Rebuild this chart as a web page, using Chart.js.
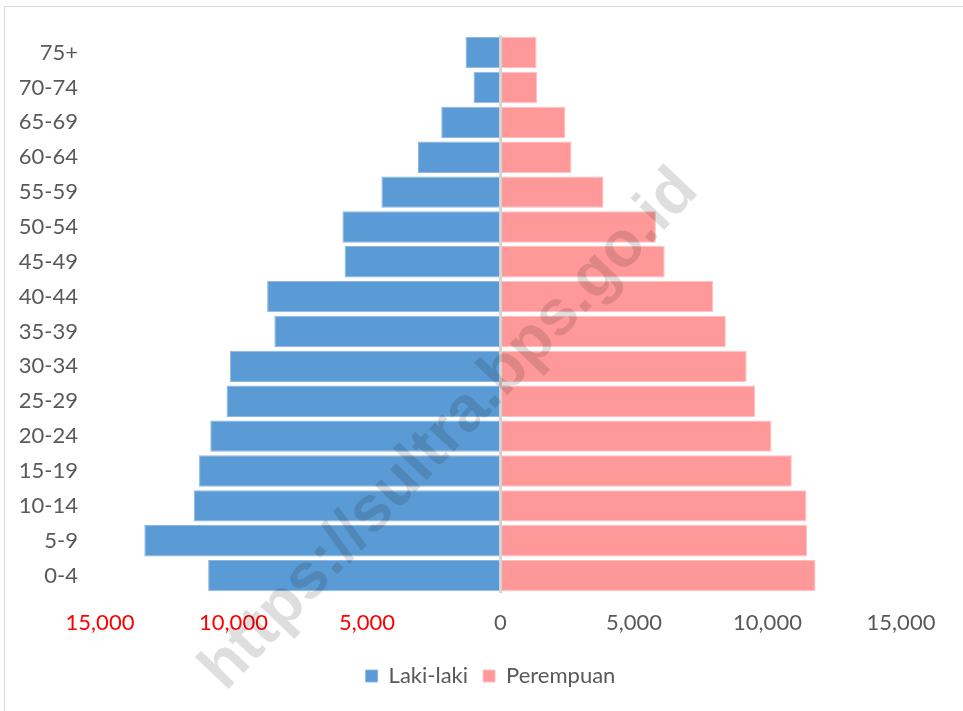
<!DOCTYPE html>
<html>
<head>
<meta charset="utf-8">
<script src="https://cdn.jsdelivr.net/npm/chart.js@4"></script>
<style>
  html, body { margin: 0; padding: 0; background: #fff; }
  .frame { position: absolute; left: 4px; top: 6px; width: 970px; height: 720px; border: 1px solid #d9d9d9; }
  #pyramid { position: absolute; left: 0; top: 0; }
</style>
</head>
<body>
<div class="frame"></div>
<canvas id="pyramid" width="963" height="711"></canvas>
<script>
// age groups, top of the pyramid first
const ageGroups = ['75+', '70-74', '65-69', '60-64', '55-59', '50-54', '45-49', '40-44',
                   '35-39', '30-34', '25-29', '20-24', '15-19', '10-14', '5-9', '0-4'];
const male   = [1310, 1010, 2220, 3090, 4460, 5920, 5840, 8740,
                8470, 10140, 10260, 10870, 11290, 11490, 13340, 10950];
const female = [1350, 1370, 2430, 2660, 3860, 5820, 6150, 7970,
                8440, 9220, 9540, 10150, 10910, 11460, 11480, 11800];
const xTicks = [-15000, -10000, -5000, 0, 5000, 10000, 15000];

const FONT = 'Lato, "Open Sans", sans-serif';

// the grey diagonal watermark
const watermark = {
    id: 'watermark',
    afterDatasetsDraw(chart) {
        const ctx = chart.ctx;
        ctx.save();
        ctx.translate(450, 430);
        ctx.rotate(-46.5 * Math.PI / 180);
        ctx.font = 'bold 64px "Liberation Sans", Arial, sans-serif';
        ctx.fillStyle = 'rgba(0, 0, 0, 0.13)';
        ctx.textAlign = 'center';
        ctx.textBaseline = 'middle';
        ctx.fillText('https://sultra.bps.go.id', 0, 0);
        ctx.restore();
    }
};

// legend sits a bit right of centre in the original
const legendShift = {
    id: 'legendShift',
    afterLayout(chart) {
        chart.legend.left += 40;
        chart.legend.right += 40;
    }
};

document.addEventListener('DOMContentLoaded', () => {
    const ctx = document.getElementById('pyramid').getContext('2d');

    new Chart(ctx, {
        type: 'bar',
        data: {
            labels: ageGroups,
            datasets: [{
                label: 'Laki-laki',
                data: male.map(v => -v),
                backgroundColor: '#5B9BD5',
                borderColor: '#8db8e3',
                borderWidth: 1,
                barPercentage: 0.9,
                categoryPercentage: 1.0
            }, {
                label: 'Perempuan',
                data: female,
                backgroundColor: '#FF9999',
                borderColor: '#ffc0c0',
                borderWidth: 1,
                barPercentage: 0.9,
                categoryPercentage: 1.0
            }]
        },
        options: {
            indexAxis: 'y',
            responsive: false,
            animation: false,
            layout: { padding: { top: 35, right: 62, left: 0, bottom: 14 } },
            scales: {
                x: {
                    stacked: true,
                    min: -15000,
                    max: 15000,
                    afterBuildTicks: (scale) => { scale.ticks = xTicks.map(v => ({ value: v })); },
                    afterFit: (scale) => { scale.height = 57; },
                    border: { display: false },
                    grid: {
                        drawTicks: false,
                        color: (c) => c.tick && c.tick.value === 0 ? '#d4d4d4' : 'rgba(0,0,0,0)',
                        lineWidth: (c) => c.tick && c.tick.value === 0 ? 3 : 0
                    },
                    ticks: {
                        padding: 17,
                        font: { family: FONT, size: 22 },
                        color: (c) => c.tick.value < 0 ? '#FF0000' : '#595959',
                        callback: (v) => Math.abs(v).toLocaleString('en-US')
                    }
                },
                y: {
                    stacked: true,
                    afterFit: (scale) => { scale.width = 100; },
                    border: { display: false },
                    grid: { display: false, drawTicks: false },
                    ticks: {
                        padding: 22,
                        font: { family: FONT, size: 22 },
                        color: '#595959'
                    }
                }
            },
            plugins: {
                legend: {
                    position: 'bottom',
                    labels: {
                        boxWidth: 12,
                        boxHeight: 12,
                        padding: 15,
                        font: { family: FONT, size: 22 },
                        color: '#595959'
                    }
                },
                tooltip: { enabled: false }
            }
        },
        plugins: [watermark, legendShift]
    });
});
</script>
</body>
</html>
